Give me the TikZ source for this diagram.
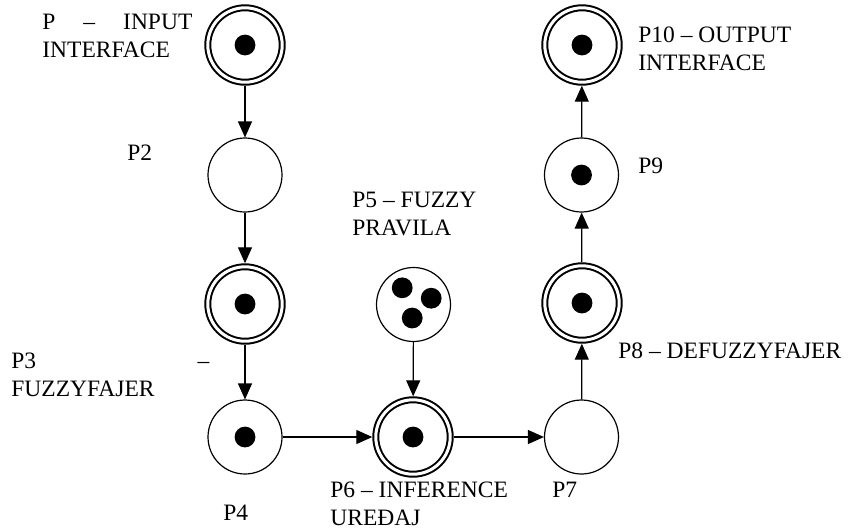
\documentclass[tikz,border=0pt]{standalone}
\usepackage{fontspec}
\setmainfont{Liberation Serif}
\usetikzlibrary{arrows.meta}
\tikzset{
  place/.style={circle, draw, line width=0.6pt, minimum size=37pt, inner sep=0pt, outer sep=0.3pt},
  dplace/.style={circle, draw, line width=1pt, double, double distance=1.5pt, minimum size=37.2pt, inner sep=0pt, outer sep=1.75pt},
  arr/.style={line width=0.6pt, -{Triangle[length=8pt, width=7pt]}},
  lbl/.style={anchor=base west, inner sep=0pt, font=\fontsize{11.75}{14}\selectfont},
}
\newcommand{\tok}[1]{\fill (#1) circle (5.2pt);}
\begin{document}
\begin{tikzpicture}[x=0.5pt, y=-0.5pt]
\useasboundingbox (0,0) rectangle (850,531);
% places
\node[dplace] (P1) at (245,45) {};
\node[place] (P2) at (245,175) {};
\node[dplace] (P3) at (245,304) {};
\node[place] (P4) at (245,437) {};
\node[place] (P5) at (413.5,304.5) {};
\node[dplace] (P6) at (413,437) {};
\node[place] (P7) at (581.5,437) {};
\node[dplace] (P8) at (582,303) {};
\node[place] (P9) at (581.5,175) {};
\node[dplace] (P10) at (582,45) {};
% tokens
\tok{P1}
\tok{P3}
\tok{P4}
\tok{P6}
\tok{P8}
\tok{P9}
\tok{P10}
\fill ([shift={(-11.3,-16.7)}]P5.center) circle (5.2pt);
\fill ([shift={(17.7,-6.3)}]P5.center) circle (5.2pt);
\fill ([shift={(-1.3,13.5)}]P5.center) circle (5.2pt);
% arcs
\draw[arr] (P1) -- (P2);
\draw[arr] (P2) -- (P3);
\draw[arr] (P3) -- (P4);
\draw[arr] (P4) -- (P6);
\draw[arr] (P5) -- (P6);
\draw[arr] (P6) -- (P7);
\draw[arr] (P7) -- (P8);
\draw[arr] (P8) -- (P9);
\draw[arr] (P9) -- (P10);
% labels
\node[lbl] (L1) at (42,29) {\parbox[t]{75pt}{\makebox[75pt][s]{P – INPUT}\\INTERFACE}};
\node[lbl] (L2) at (127,160) {P2};
\node[lbl] (L3) at (11,368) {\parbox[t]{99pt}{\makebox[99pt][s]{P3 –}\\FUZZYFAJER}};
\node[lbl] (L4) at (223,520) {P4};
\node[lbl] (L5) at (352,207) {\parbox[t]{100pt}{P5 – FUZZY\\PRAVILA}};
\node[lbl] (L6) at (330,497) {\parbox[t]{100pt}{P6 – INFERENCE\\UREĐAJ}};
\node[lbl] (L7) at (552,497) {P7};
\node[lbl] (L8) at (618,358) {P8 – DEFUZZYFAJER};
\node[lbl] (L9) at (638,173) {P9};
\node[lbl] (L10) at (638,42) {\parbox[t]{100pt}{P10 – OUTPUT\\INTERFACE}};
\end{tikzpicture}
\end{document}
